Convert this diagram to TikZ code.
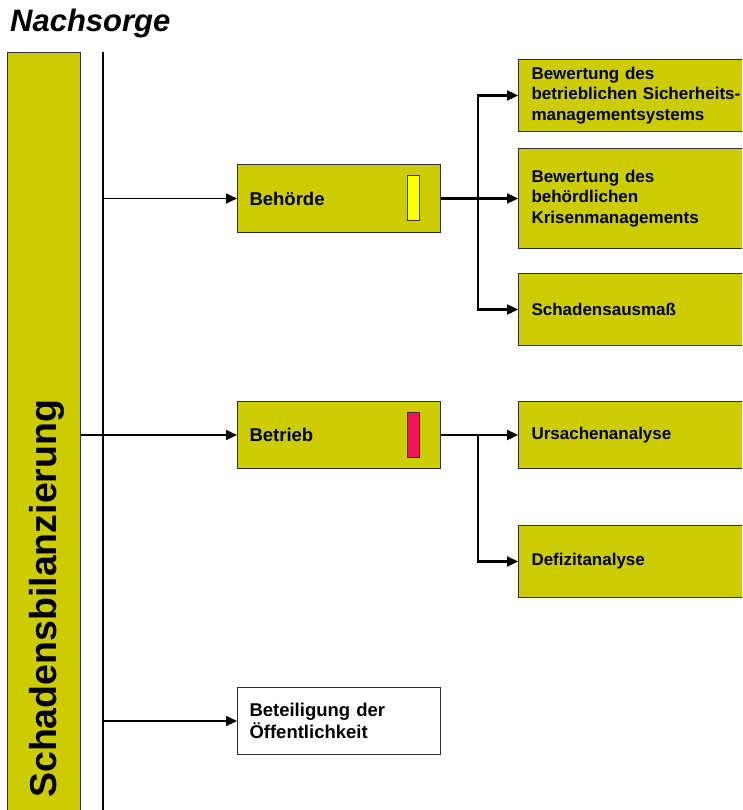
\documentclass[tikz,border=0pt]{standalone}
\usepackage{fontspec}
\setmainfont{Liberation Sans}
\usetikzlibrary{arrows.meta}
\definecolor{boxfill}{HTML}{CCCC00}
\definecolor{indyellow}{HTML}{FFFF00}
\definecolor{indred}{HTML}{F0145A}
\definecolor{edge}{HTML}{303030}
\begin{document}
\begin{tikzpicture}[x=1pt,y=-1pt,
  box/.style={draw=edge, fill=boxfill, line width=1pt, inner ysep=0pt, anchor=north west, align=left},
  lbox/.style={box, inner xsep=12pt, text width=179pt, minimum height=#1, font=\fontsize{18.5}{22}\selectfont\bfseries},
  rbox/.style={box, inner xsep=13pt, text width=230pt, minimum height=#1, font=\fontsize{17}{20.5}\selectfont\bfseries},
  ind/.style={draw=edge, line width=1pt, minimum width=12pt, minimum height=45pt, inner sep=0pt},
  arr/.style={-{Triangle[length=11pt,width=10pt]}, line width=1.6pt},
  arrB/.style={-{Triangle[length=11pt,width=10pt]}, line width=2.3pt}
]
\useasboundingbox (0,0) rectangle (742,810);
\clip (0,0) rectangle (742,810);

% title
\node[anchor=base west, inner sep=0pt, font=\fontsize{31}{34}\selectfont\bfseries\itshape] (title) at (10,32) {Nachsorge};

% left tall box
\node[draw=edge, fill=boxfill, line width=1pt, anchor=north west, minimum width=73pt, minimum height=770pt, inner sep=0pt] (sb) at (7,52) {};
\node[rotate=90, anchor=base west, inner sep=0pt, font=\fontsize{37.5}{40}\selectfont\bfseries] (sbT) at (56,798) {Schadensbilanzierung};

% vertical line
\coordinate (vt) at (103,52);
\coordinate (vb) at (103,815);
\draw[line width=1.5pt] (vt) -- (vb);

% middle column
\node[lbox=68pt, minimum width=203pt] (beh) at (237,164) {Behörde};
\node[ind, fill=indyellow] (behI) at (413,198.5) {};
\node[lbox=67pt, minimum width=203pt] (bet) at (237,401) {Betrieb};
\node[ind, fill=indred] (betI) at (413,434.5) {};
\node[lbox=67pt, minimum width=203pt, fill=white] (oef) at (237,687) {Beteiligung der\\Öffentlichkeit};

% right column
\node[rbox=72pt] (r1) at (518,59) {Bewertung des\\betrieblichen Sicherheits-\\managementsystems};
\node[rbox=100pt] (r2) at (518,148) {Bewertung des\\behördlichen\\Krisenmanagements};
\node[rbox=72pt] (r3) at (518,273) {Schadensausmaß};
\node[rbox=67pt] (r4) at (518,401) {Ursachenanalyse};
\node[rbox=72pt] (r5) at (518,525) {Defizitanalyse};

% connectors left
\draw[arr] (vt |- beh.west) -- (beh.west);
\draw[arr] (sb.east |- bet.west) -- (bet.west);
\draw[arr] (vt |- oef.west) -- (oef.west);

% connectors right
\coordinate (jb) at (478,198);
\draw[arrB] (beh.east) -- (r2.west);
\draw[arrB] (jb |- r3.west) -- (jb |- r1.west) -- (r1.west);
\draw[arrB] (jb |- r1.west) -- (jb |- r3.west) -- (r3.west);
\draw[arrB] (bet.east) -- (r4.west);
\draw[arrB] (jb |- bet.east) -- (jb |- r5.west) -- (r5.west);
\end{tikzpicture}
\end{document}
